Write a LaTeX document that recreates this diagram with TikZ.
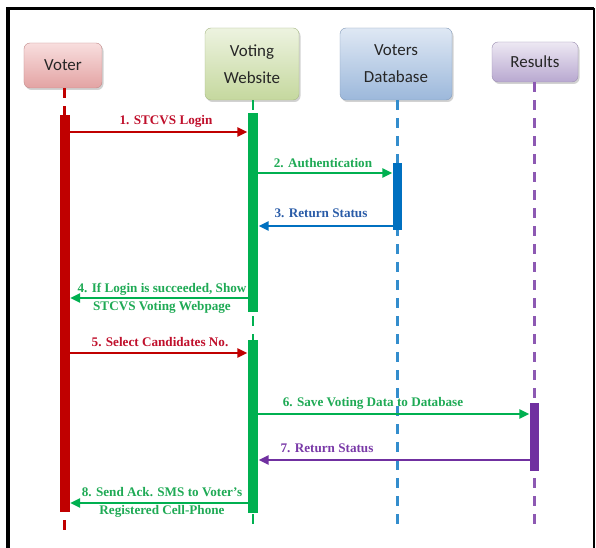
\documentclass[tikz,border=0pt]{standalone}
\usepackage{fontspec}
\setmainfont{Liberation Serif}
\newfontfamily\boxfont{Carlito}
\usetikzlibrary{arrows.meta,shadows}

\definecolor{cRed}{HTML}{C00000}
\definecolor{cGreen}{HTML}{00B050}
\definecolor{cBlue}{HTML}{0070C0}
\definecolor{cPurple}{HTML}{7030A0}
\definecolor{lRed}{HTML}{C0102C}
\definecolor{lGreen}{HTML}{1FAA55}
\definecolor{lBlue}{HTML}{2A5CA8}
\definecolor{lPurple}{HTML}{7A3AA8}
% participant box fills
\definecolor{voterTop}{HTML}{F8DEDE}
\definecolor{voterBot}{HTML}{E3A3A3}
\definecolor{webTop}{HTML}{EDF3E0}
\definecolor{webBot}{HTML}{C5D89E}
\definecolor{dbTop}{HTML}{DFE8F4}
\definecolor{dbBot}{HTML}{9CB8DB}
\definecolor{resTop}{HTML}{EDE8F3}
\definecolor{resBot}{HTML}{B8A8D0}

\tikzset{
  actor/.style 2 args={rounded corners=6bp, align=center, inner sep=0pt,
    font=\boxfont\fontsize{17}{27}\selectfont, text=black!85,
    top color=#1, bottom color=#2, draw=#2!85!black,
    line width=0.4bp,
    drop shadow={shadow xshift=1.5bp, shadow yshift=-2bp, opacity=0.35}},
  actbar/.style={fill=#1, draw=none, inner sep=0pt, minimum width=10bp},
  lifeline/.style={draw=#1, line width=2.5bp, dash pattern=on 10bp off 8bp},
  msg/.style={draw=#1, line width=2.3bp,
    -{Triangle[length=10bp,width=9bp]}, shorten >=0.5bp},
  lbl/.style={text=#1, font=\bfseries\fontsize{13.2}{18}\selectfont,
    inner sep=0pt, align=center}
}

\begin{document}
\begin{tikzpicture}[x=1bp,y=-1bp]
\useasboundingbox (0,0) rectangle (596,548);
\fill[white] (0,0) rectangle (596,548);

% frame
\draw[line width=3.5bp] (8,560) -- (8,8.5) -- (593.5,8.5);
\draw[line width=2bp] (593.5,8.5) -- (593.5,560);

% participants
\node[actor={voterTop}{voterBot}, minimum width=78bp, minimum height=45bp]
  (voter) at (63,65.5) {Voter};
\node[actor={webTop}{webBot}, minimum width=94bp, minimum height=72bp]
  (web) at (252,64) {Voting\\Website};
\node[actor={dbTop}{dbBot}, minimum width=112bp, minimum height=72bp]
  (db) at (396,64) {Voters\\Database};
\node[actor={resTop}{resBot}, minimum width=86bp, minimum height=40bp]
  (res) at (535,62) {Results};

% lifeline ends
\coordinate (voterEnd) at (64.5,531);
\coordinate (webEnd) at (253,531);
\coordinate (dbEnd) at (397.5,531);
\coordinate (resEnd) at (534.5,531);

\draw[lifeline=cRed] (voter.south -| voterEnd) -- (voterEnd);
\draw[lifeline=cGreen] (web.south -| webEnd) -- (webEnd);
\draw[lifeline=cBlue!80!white] (db.south -| dbEnd) -- (dbEnd);
\draw[lifeline=cPurple!80!white] (res.south -| resEnd) -- (resEnd);

% activation bars
\node[actbar=cRed, minimum height=397bp] (vbar) at (64.5,313.5) {};
\node[actbar=cGreen, minimum height=199bp] (wbar1) at (253,212.5) {};
\node[actbar=cGreen, minimum height=173bp] (wbar2) at (253,426.5) {};
\node[actbar=cBlue, minimum width=9bp, minimum height=67bp] (dbar) at (397.5,196.5) {};
\node[actbar=cPurple, minimum width=9bp, minimum height=68bp] (rbar) at (534.5,437) {};

% messages
\draw[msg=cRed] (vbar.east |- 0,132) -- (wbar1.west |- 0,132);
\node[lbl=lRed] (m1) at (166,121) {1. STCVS Login};

\draw[msg=cGreen] (wbar1.east |- 0,173) -- (dbar.west |- 0,173);
\node[lbl=lGreen] (m2) at (323,163) {2. Authentication};

\draw[msg=cBlue] (dbar.west |- 0,226) -- (wbar1.east |- 0,226);
\node[lbl=lBlue] (m3) at (321,213) {3. Return Status};

\draw[msg=cGreen] (wbar1.west |- 0,298) -- (vbar.east |- 0,298);
\node[lbl=lGreen] (m4) at (162,298.5) {4. If Login is succeeded, Show\\STCVS Voting Webpage};

\draw[msg=cRed] (vbar.east |- 0,353) -- (wbar2.west |- 0,353);
\node[lbl=lRed] (m5) at (160,342) {5. Select Candidates No.};

\draw[msg=cGreen] (wbar2.east |- 0,414) -- (rbar.west |- 0,414);
\node[lbl=lGreen] (m6) at (373,403) {6. Save Voting Data to Database};

\draw[msg=cPurple] (rbar.west |- 0,460) -- (wbar2.east |- 0,460);
\node[lbl=lPurple] (m7) at (327,448) {7. Return Status};

\draw[msg=cGreen] (wbar2.west |- 0,503) -- (vbar.east |- 0,503);
\node[lbl=lGreen] (m8) at (162,502) {8. Send Ack. SMS to Voter's\\Registered Cell-Phone};
\end{tikzpicture}
\end{document}
